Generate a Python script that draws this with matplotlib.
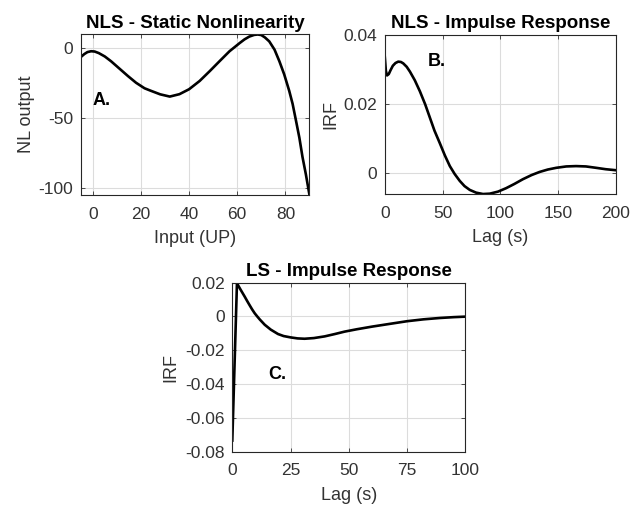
import matplotlib
matplotlib.use("Agg")
import matplotlib.pyplot as plt

plt.rcParams['font.family'] = ['Liberation Sans', 'DejaVu Sans']
plt.rcParams['axes.unicode_minus'] = False

# panel A - static nonlinearity
nl_x = [-5, -3.5, -2.2, -0.7, 0.8, 2.5, 5, 7.6, 11, 14.6, 18, 21.5, 24, 28,
        32, 36, 40, 44.4, 48.6, 52.7, 56.8, 61, 63, 65, 67, 68.5, 70, 71.5,
        73.3, 75.5, 77.5, 79.5, 81.6, 83, 84.4, 85.8, 87.1, 88.5, 90]
nl_y = [-6.8, -4.6, -3.2, -2.6, -2.8, -3.9, -6.3, -9.7, -14.8, -20.2, -25,
        -28.9, -30.6, -33.2, -34.8, -33.1, -29.6, -23.7, -16.7, -9.6, -2.6,
        3.2, 5.8, 7.8, 9.0, 9.3, 8.9, 7.2, 4.4, -1.5, -9.7, -19, -30.8, -40,
        -51.9, -64, -77.7, -90, -104.7]

# panel B - NLS impulse response
nls_lag = [0, 1, 2, 3.5, 5, 7, 9.3, 11.7, 14, 16, 19, 21.8, 26, 30.4, 35, 39,
           43, 47.7, 52, 56.3, 60.5, 64.9, 69, 73.5, 79, 85, 90.8, 98, 105,
           112, 119.5, 127, 133.9, 141, 148.3, 157, 165.5, 174, 182.8, 191,
           200]
nls_irf = [0.0338, 0.0295, 0.0282, 0.0286, 0.0297, 0.0310, 0.0318, 0.0322,
           0.0321, 0.0317, 0.0307, 0.0293, 0.0268, 0.0236, 0.0198, 0.0160,
           0.0122, 0.0085, 0.0050, 0.0019, -0.0004, -0.0024, -0.0039, -0.0050,
           -0.0058, -0.0062, -0.0061, -0.0055, -0.0045, -0.0033, -0.0019,
           -0.0007, 0.0002, 0.0009, 0.0014, 0.0018, 0.0019, 0.0018, 0.0014,
           0.0010, 0.0007]

# panel C - LS impulse response
ls_lag = [0, 2, 2.8, 3.5, 4.4, 5.3, 6.4, 7.5, 8.5, 9.6, 10.7, 11.8, 13.9,
          16.5, 19.6, 22, 25, 28, 31, 35, 39.6, 44, 48.1, 53.3, 60, 67, 75,
          82, 89, 95, 100]
ls_irf = [-0.0735, 0.0197, 0.0177, 0.0160, 0.0139, 0.0118, 0.0091, 0.0065,
          0.0042, 0.0019, 0.0000, -0.0018, -0.0049, -0.0078, -0.0104,
          -0.0116, -0.0124, -0.0130, -0.0132, -0.0128, -0.0118, -0.0104,
          -0.0090, -0.0076, -0.0060, -0.0045, -0.0028, -0.0017, -0.0009,
          -0.0004, -0.0001]

TXT = '#333333'
GRID = '#dcdcdc'


def style(ax, title, xlabel, ylabel, ylab_x):
    ax.set_title(title, fontsize=13.5, fontweight='bold', color='black', pad=5)
    ax.set_xlabel(xlabel, fontsize=13, color=TXT, labelpad=6)
    ax.set_ylabel(ylabel, fontsize=13, color=TXT)
    ax.yaxis.set_label_coords(ylab_x, 0.5)
    ax.grid(True, color=GRID, linewidth=0.8)
    ax.set_axisbelow(True)
    ax.tick_params(direction='in', length=3, width=0.6, colors=TXT,
                   labelsize=12.5, top=True, right=True)
    ax.tick_params(axis='x', pad=8.5)
    ax.tick_params(axis='y', pad=5.5)
    for sp in ax.spines.values():
        sp.set_color('#262626')
        sp.set_linewidth(0.8)


fig = plt.figure(figsize=(6.41, 5.05), dpi=100)

axA = fig.add_axes([0.1259, 0.6139, 0.3569, 0.3178])
axA.plot(nl_x, nl_y, color='black', lw=1.9)
axA.set_xlim(-5, 90)
axA.set_ylim(-104.7, 9.3)
axA.set_xticks([0, 20, 40, 60, 80])
axA.set_yticks([-100, -50, 0])
style(axA, 'NLS - Static Nonlinearity', 'Input (UP)', 'NL output', -0.198)
axA.text(0, -37.8, 'A.', fontsize=13, fontweight='bold', va='center', ha='left')

axB = fig.add_axes([0.6002, 0.6158, 0.3608, 0.3154])
axB.plot(nls_lag, nls_irf, color='black', lw=1.9)
axB.set_xlim(0, 200)
axB.set_ylim(-0.0062, 0.04)
axB.set_xticks([0, 50, 100, 150, 200])
axB.set_yticks([0, 0.02, 0.04])
axB.set_yticklabels(['0', '0.02', '0.04'])
style(axB, 'NLS - Impulse Response', 'Lag (s)', 'IRF', -0.198)
axB.text(37.3, 0.0321, 'B.', fontsize=13, fontweight='bold', va='center', ha='left')

axC = fig.add_axes([0.3624, 0.1059, 0.3638, 0.3343])
axC.plot(ls_lag, ls_irf, color='black', lw=1.9)
axC.set_xlim(0, 100)
axC.set_ylim(-0.08, 0.02)
axC.set_xticks([0, 25, 50, 75, 100])
axC.set_yticks([-0.08, -0.06, -0.04, -0.02, 0, 0.02])
axC.set_yticklabels(['-0.08', '-0.06', '-0.04', '-0.02', '0', '0.02'])
style(axC, 'LS - Impulse Response', 'Lag (s)', 'IRF', -0.228)
axC.text(15.3, -0.0345, 'C.', fontsize=13, fontweight='bold', va='center', ha='left')

fig.savefig('out.png', dpi=100)
